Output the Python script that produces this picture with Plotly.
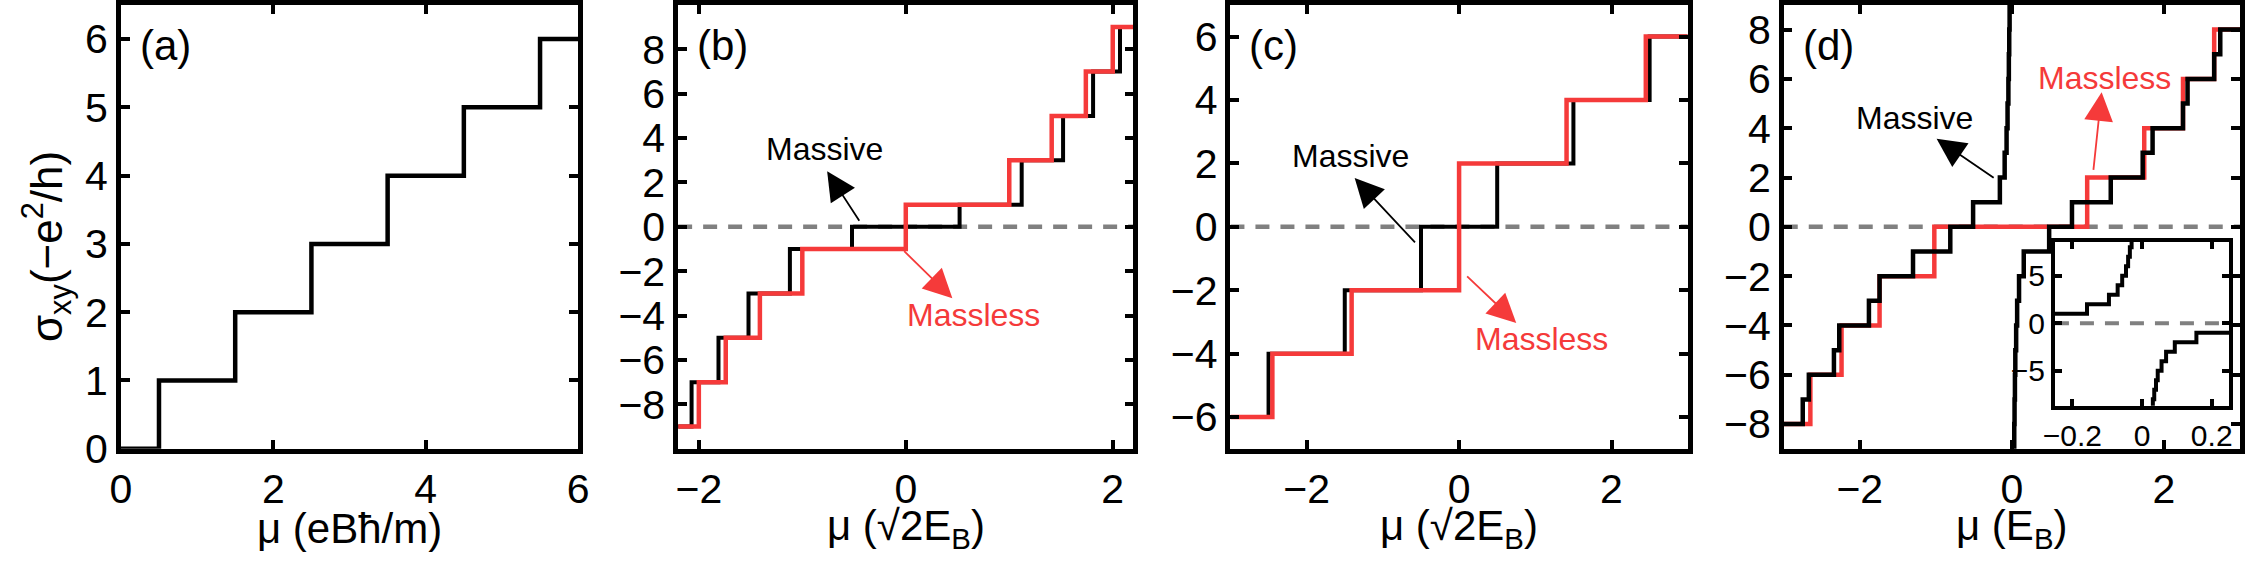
import plotly.graph_objects as go

W, H = 2255, 572

# ---------------- data ----------------
# (a) ordinary 2DEG
a_start, a_end = 0.0, 6.0
a_edges = [0.5, 1.5, 2.5, 3.5, 4.5, 5.5]
a_levels = [0, 1, 2, 3, 4, 5, 6]

# (b)
b_start, b_end = -2.2, 2.2
b_massive_edges = [-2.07, -1.81, -1.52, -1.12, -0.52, 0.52, 1.12, 1.52, 1.81, 2.07]
b_massive_levels = [-9, -7, -5, -3, -1, 0, 1, 3, 5, 7, 9]
b_massless_edges = [-2.0, -1.74, -1.41, -1.0, 0.0, 1.0, 1.41, 1.74, 2.0]
b_massless_levels = [-9, -7, -5, -3, -1, 1, 3, 5, 7, 9]

# (c)
c_start, c_end = -3.0, 3.0
c_massive_edges = [-2.5, -1.5, -0.5, 0.5, 1.5, 2.5]
c_massive_levels = [-6, -4, -2, 0, 2, 4, 6]
c_massless_edges = [-2.45, -1.41, 0.0, 1.41, 2.45]
c_massless_levels = [-6, -4, -2, 2, 4, 6]

# (d)
d_start, d_end = -3.0, 3.0
d_massless_edges = [-2.65, -2.24, -1.74, -1.02, 0.99, 1.74, 2.25, 2.66]
d_massless_levels = [-8, -6, -4, -2, 0, 2, 4, 6, 8]
d_massive_left_edges = [-2.75, -2.67, -2.34, -2.27, -1.88, -1.74, -1.30, -0.81, -0.51,
                        -0.158, -0.095, -0.070, -0.057, -0.046, -0.040, -0.035, -0.030, -0.026]
d_massive_left_levels = [-8, -7, -6, -5, -4, -3, -2, -1, 0, 1, 2, 3, 4, 5, 6, 7, 8, 9, 10]
d_massive_left_end = -0.026
d_massive_right_start = 0.024
d_massive_right_edges = [0.027, 0.031, 0.035, 0.040, 0.045, 0.056, 0.069, 0.094, 0.156,
                         0.49, 0.79, 1.30, 1.72, 1.85, 2.25, 2.31, 2.66, 2.74]
d_massive_right_levels = [-10, -9, -8, -7, -6, -5, -4, -3, -2, -1, 0, 1, 2, 3, 4, 5, 6, 7, 8]

# axis ranges / ticks
a_xr, a_yr = [0, 6], [0, 6.5]
b_xr, b_yr = [-2.2, 2.2], [-10, 10]
c_xr, c_yr = [-3, 3], [-7, 7]
d_xr, d_yr = [-3, 3], [-9, 9]
in_xr, in_yr = [-0.25, 0.25], [-8.7, 8.6]
a_xt, a_yt = [0, 2, 4, 6], [0, 1, 2, 3, 4, 5, 6]
b_xt, b_yt = [-2, 0, 2], [-8, -6, -4, -2, 0, 2, 4, 6, 8]
c_xt, c_yt = [-2, 0, 2], [-6, -4, -2, 0, 2, 4, 6]
d_xt, d_yt = [-2, 0, 2], [-8, -6, -4, -2, 0, 2, 4, 6, 8]
in_xt, in_yt = [-0.2, 0, 0.2], [-5, 0, 5]

RED = "#f53a3a"
BLACK = "black"
GRAY = "#808080"
FONT = "Liberation Sans, Arial, Helvetica, sans-serif"
TICK = 41
TITLE = 42
NOTE = 32


def steps(start, edges, levels, end):
    return [start] + list(edges) + [end], list(levels) + [levels[-1]]


def xdom(l, r):
    return [l / W, r / W]


def ydom(t, b):
    return [1 - b / H, 1 - t / H]


fig = go.Figure()


def add_step(xa, ya, start, edges, levels, end, color, width):
    x, y = steps(start, edges, levels, end)
    fig.add_trace(go.Scatter(x=x, y=y, mode="lines", line=dict(color=color, width=width, shape="hv"),
                             xaxis=xa, yaxis=ya, showlegend=False, hoverinfo="skip"))


def add_zero(xa, ya, xr, width=4.5):
    fig.add_trace(go.Scatter(x=xr, y=[0, 0], mode="lines",
                             line=dict(color=GRAY, width=width, dash="14px,11px"),
                             xaxis=xa, yaxis=ya, showlegend=False, hoverinfo="skip"))


# (a)
add_step("x", "y", a_start, a_edges, a_levels, a_end, BLACK, 4.5)
# (b)
add_zero("x2", "y2", b_xr)
add_step("x2", "y2", b_start, b_massive_edges, b_massive_levels, b_end, BLACK, 4)
add_step("x2", "y2", b_start, b_massless_edges, b_massless_levels, b_end, RED, 4.5)
# (c)
add_zero("x3", "y3", c_xr)
add_step("x3", "y3", c_start, c_massive_edges, c_massive_levels, c_end, BLACK, 4)
add_step("x3", "y3", c_start, c_massless_edges, c_massless_levels, c_end, RED, 4.5)
# (d)
add_zero("x4", "y4", d_xr)
add_step("x4", "y4", d_start, d_massless_edges, d_massless_levels, d_end, RED, 4.5)
add_step("x4", "y4", d_start, d_massive_left_edges, d_massive_left_levels, d_massive_left_end, BLACK, 4.5)
add_step("x4", "y4", d_massive_right_start, d_massive_right_edges, d_massive_right_levels, d_end, BLACK, 4.5)
# inset
add_zero("x5", "y5", in_xr, width=4)
add_step("x5", "y5", -0.25, d_massive_left_edges, d_massive_left_levels, d_massive_left_end, BLACK, 4)
add_step("x5", "y5", d_massive_right_start, d_massive_right_edges, d_massive_right_levels, 0.25, BLACK, 4)


def axis(dom, rng, tv, size=TICK, lw=4.5, tl=9):
    return dict(domain=dom, range=rng, tickvals=tv, showline=True, linecolor="black", linewidth=lw,
                mirror="ticks", ticks="inside", ticklen=tl, tickwidth=3.5, tickcolor="black",
                showgrid=False, zeroline=False, tickfont=dict(size=size, color="black", family=FONT))


T, B = 2, 467
panels = [(110, 572), (673, 1133), (1231, 1693), (1790, 2251)]
fig.update_layout(
    xaxis=axis(xdom(*panels[0]), a_xr, a_xt), yaxis=axis(ydom(T, B), a_yr, a_yt),
    xaxis2=axis(xdom(*panels[1]), b_xr, b_xt), yaxis2=axis(ydom(T, B), b_yr, b_yt),
    xaxis3=axis(xdom(*panels[2]), c_xr, c_xt), yaxis3=axis(ydom(T, B), c_yr, c_yt),
    xaxis4=axis(xdom(*panels[3]), d_xr, d_xt), yaxis4=axis(ydom(T, B), d_yr, d_yt),
    xaxis5=axis(xdom(2064, 2240), in_xr, in_xt, size=30, lw=4, tl=7),
    yaxis5=axis(ydom(250, 422), in_yr, in_yt, size=30, lw=4, tl=7),
)
for i in range(1, 6):
    s = "" if i == 1 else str(i)
    fig.layout["xaxis" + s].anchor = "y" + s
    fig.layout["yaxis" + s].anchor = "x" + s

ann = []


def ptext(px, py, text, size=TITLE, color="black", xanchor="center", yanchor="middle", angle=0):
    ann.append(dict(x=px / W, y=1 - py / H, xref="paper", yref="paper", text=text, showarrow=False,
                    font=dict(size=size, color=color, family=FONT), xanchor=xanchor, yanchor=yanchor,
                    textangle=angle))


# panel labels
for (l, r), lab in zip(panels, ["(a)", "(b)", "(c)", "(d)"]):
    ptext(l + 17, 45, lab, size=TICK + 1, xanchor="left")

# axis titles
ptext((panels[0][0] + panels[0][1]) / 2, 550, "μ (eBħ/m)")
ptext((panels[1][0] + panels[1][1]) / 2, 550, "μ (√2E<sub>B</sub>)")
ptext((panels[2][0] + panels[2][1]) / 2, 550, "μ (√2E<sub>B</sub>)")
ptext((panels[3][0] + panels[3][1]) / 2, 550, "μ (E<sub>B</sub>)")
ptext(35, 255, "σ<sub>xy</sub>(−e<sup>2</sup>/h)", size=44, angle=-90)


def dtext(xa, ya, x, y, text, color):
    ann.append(dict(x=x, y=y, xref=xa, yref=ya, text=text, showarrow=False,
                    font=dict(size=NOTE, color=color, family=FONT), xanchor="center", yanchor="middle"))


def arrow(xa, ya, x0, y0, x1, y1, color):
    ann.append(dict(x=x1, y=y1, ax=x0, ay=y0, xref=xa, yref=ya, axref=xa, ayref=ya, text="",
                    showarrow=True, arrowhead=2, arrowsize=3.2, arrowwidth=1.8, arrowcolor=color,
                    standoff=0, startstandoff=0))


# (b)
dtext("x2", "y2", -0.79, 3.52, "Massive", BLACK)
arrow("x2", "y2", -0.44, 0.21, -0.76, 2.50, BLACK)
dtext("x2", "y2", 0.65, -3.97, "Massless", RED)
arrow("x2", "y2", -0.03, -1.03, 0.45, -3.22, RED)
# (c)
dtext("x3", "y3", -1.43, 2.23, "Massive", BLACK)
arrow("x3", "y3", -0.56, -0.54, -1.37, 1.54, BLACK)
dtext("x3", "y3", 1.085, -3.53, "Massless", RED)
arrow("x3", "y3", 0.086, -1.52, 0.75, -3.03, RED)
# (d)
dtext("x4", "y4", -1.28, 4.43, "Massive", BLACK)
arrow("x4", "y4", -0.22, 1.95, -0.99, 3.57, BLACK)
dtext("x4", "y4", 1.22, 6.05, "Massless", RED)
arrow("x4", "y4", 1.07, 2.25, 1.18, 5.46, RED)

fig.update_layout(annotations=ann, width=W, height=H, margin=dict(l=0, r=0, t=0, b=0),
                  paper_bgcolor="white", plot_bgcolor="white", showlegend=False,
                  font=dict(family=FONT, color="black"))

fig.write_html("out.html")
